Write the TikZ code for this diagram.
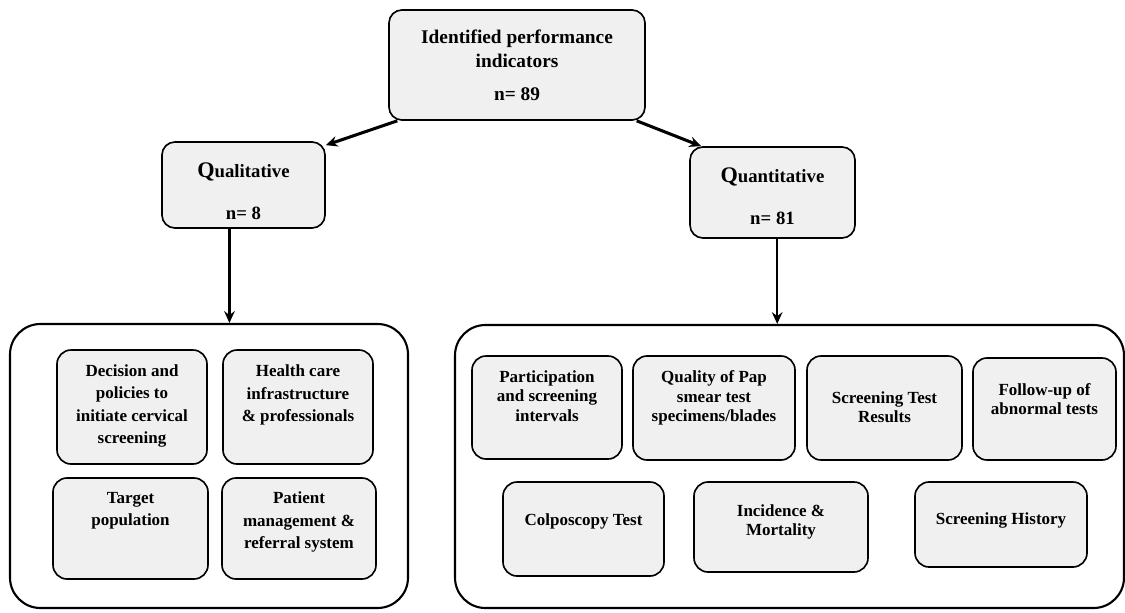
\documentclass[tikz,border=0pt]{standalone}
\usepackage{fontspec}
\setmainfont{Liberation Serif}
\usetikzlibrary{arrows.meta,calc}
\definecolor{boxfill}{HTML}{F0F0F0}
\tikzset{
  sz/.style 2 args={minimum width=#1*0.03cm, minimum height=#2*0.03cm},
  box/.style={draw=black, fill=boxfill, rounded corners=11pt, line width=1.4pt,
              inner sep=0pt, align=center},
  headbox/.style={box, font=\bfseries\fontsize{16.5}{21}\selectfont},
  inbox/.style={box, rounded corners=12pt},
  frame/.style={draw=black, line width=1.8pt, rounded corners=26pt, inner sep=0pt},
  head/.style={font=\bfseries\fontsize{16}{21}\selectfont, align=center, inner sep=0pt},
  txt/.style={font=\bfseries\fontsize{14.5}{19}\selectfont, align=center, inner sep=0pt},
  txtr/.style={txt, font=\bfseries\fontsize{14.5}{16.5}\selectfont},
  ar/.style={-{Stealth[length=10pt,width=9pt]}, line width=2pt}
}

\begin{document}
\begin{tikzpicture}[x=0.03cm,y=-0.03cm]
  \useasboundingbox (0,0) rectangle (1125,612);

  \node[headbox, sz={256}{110}] (top) at (517,65)
     {Identified performance\\indicators\\[7pt]n= 89};
  \node[box, sz={163}{86}] (qual) at (243.5,185) {};
  \node[box, sz={165}{91}] (quan) at (772.5,192.5) {};
  \node[head] (qual-t) at (243.5,191.5)
     {{\fontsize{19}{21}\selectfont Q}ualitative\\[15pt]n= 8};
  \node[head] (quan-t) at (772.5,196.5)
     {{\fontsize{19}{21}\selectfont Q}uantitative\\[15pt]n= 81};

  \node[frame, sz={398}{284}] (left) at (209,466) {};
  \node[frame, sz={669}{283}] (right) at (789.5,466.5) {};

  % qualitative group
  \node[inbox, sz={150}{114}] (dec) at (132,407) {};
  \node[inbox, sz={150}{114}] (hea) at (298,407) {};
  \node[inbox, sz={155}{101}] (tar) at (130.5,528.5) {};
  \node[inbox, sz={154}{101}] (pat) at (299,528.5) {};
  \node[txt] (dec-t) at (132,406) {Decision and\\policies to\\initiate cervical\\screening};
  \node[txt] (hea-t) at (298,395) {Health care\\infrastructure\\\& professionals};
  \node[txt] (tar-t) at (130.5,511) {Target\\population};
  \node[txt] (pat-t) at (299,522) {Patient\\management \&\\referral system};

  % quantitative group
  \node[inbox, sz={150}{103}] (par) at (547,407.5) {};
  \node[inbox, sz={162}{104}] (qua) at (714,408) {};
  \node[inbox, sz={155}{104}] (str) at (884.5,408) {};
  \node[inbox, sz={143}{102}] (fol) at (1044.5,409) {};
  \node[inbox, sz={161}{94}] (col) at (583.5,529) {};
  \node[inbox, sz={174}{90}] (inc) at (781,527) {};
  \node[inbox, sz={172}{85}] (his) at (1001,524.5) {};
  \node[txtr] (par-t) at (547,396) {Participation\\and screening\\intervals};
  \node[txtr] (qua-t) at (714,398) {Quality of Pap\\smear test\\specimens/blades};
  \node[txtr] (str-t) at (884.5,407) {Screening Test\\Results};
  \node[txtr] (fol-t) at (1044.5,399) {Follow-up of\\abnormal tests};
  \node[txtr] (col-t) at (583.5,521) {Colposcopy Test};
  \node[txtr] (inc-t) at (781,522) {Incidence \&\\Mortality};
  \node[txtr] (his-t) at (1001,520) {Screening History};

  \draw[ar, line width=2.6pt] (top.205) -- ($(qual.north east)+(0,4)$);
  \draw[ar, line width=2.6pt] (top.-25) -- ($(quan.north west)+(12,0)$);
  \draw[ar] ([xshift=-12pt]qual.south) -- ([xshift=-12pt]qual.south |- left.north);
  \draw[ar] ([xshift=4pt]quan.south) -- ([xshift=4pt]quan.south |- right.north);
\end{tikzpicture}
\end{document}
